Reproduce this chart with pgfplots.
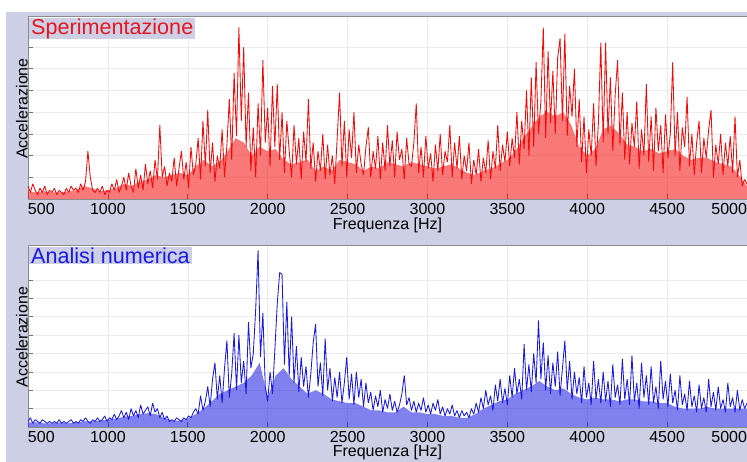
\documentclass[border=0pt]{standalone}
\usepackage{fontspec}
\setmainfont{Liberation Sans}
\usepackage{pgfplots}
\pgfplotsset{compat=1.18}

\definecolor{lav}{RGB}{205,207,228}
\definecolor{sigred}{RGB}{245,10,10}
\definecolor{sigblue}{RGB}{25,25,225}
\definecolor{ttlred}{RGB}{228,22,32}
\definecolor{ttlblue}{RGB}{25,25,230}

\pgfplotsset{
  panel/.style={
    scale only axis, width=719pt,
    xmin=500, xmax=5000, ymin=0,
    anchor=south west,
    axis background/.style={fill=white},
    axis line style={black!45, line width=0.6pt},
    xtick={500,1000,...,5000},
    xticklabels={\rlap{500},1000,1500,2000,2500,3000,3500,4000,4500,\llap{5000}},
    xtick pos=bottom, ytick pos=left, tick align=inside,
    major tick length=5pt, tick style={black!55, line width=0.6pt},
    yticklabels={},
    grid=major, grid style={black!8, line width=0.5pt},
    tick label style={font=\fontsize{16}{17}\selectfont, inner sep=1pt},
    xticklabel style={yshift=-3pt},
    label style={font=\fontsize{16}{17}\selectfont},
    xlabel={Frequenza [Hz]},
    ylabel={Accelerazione},
    xlabel style={at={(axis description cs:0.5,0)}, anchor=north, inner sep=0pt},
    ylabel style={at={(axis description cs:0,0.5)}, anchor=south, inner sep=0pt, xshift=-1pt},
  },
  core/.style={draw=none, fill opacity=0.55},
  spikes/.style={line width=0.85pt, line join=bevel},
}
\tikzset{
  ttl/.style={anchor=north west, fill=lav, inner xsep=2pt, inner ysep=0.5pt,
    font=\fontsize{21.6}{22}\selectfont, shift={(1pt,-2pt)}},
}

\begin{document}
\begin{tikzpicture}
\useasboundingbox (0pt,0pt) rectangle (747pt,462pt);
\fill[white] (0pt,0pt) rectangle (747pt,462pt);
\fill[lav] (6pt,0pt) rectangle (747pt,450pt);

% Sperimentazione
\begin{axis}[panel, at={(28pt,263pt)}, height=183pt, ymax=8.43,
    ytick={1,...,7}, xlabel style={yshift=-19pt}]
% dense core of the spectrum
\addplot[core, fill=sigred] coordinates {
(500,0)(500,0.35)(550,0.3)(600,0.35)(650,0.3)(700,0.3)(750,0.35)(800,0.4)(850,0.6)(900,0.5)(950,0.35)
(1000,0.4)(1050,0.5)(1100,0.7)(1150,0.6)(1200,0.8)(1250,0.9)(1300,1.1)(1350,1.0)(1400,1.1)(1450,1.2)
(1500,1.1)(1550,1.5)(1600,1.8)(1650,1.5)(1700,1.7)(1750,2.2)(1800,2.8)(1850,2.6)(1900,2.0)(1950,2.4)
(2000,2.2)(2050,2.3)(2100,1.8)(2150,1.6)(2200,1.7)(2250,1.8)(2300,1.3)(2350,1.5)(2400,1.3)(2450,1.8)
(2500,1.7)(2550,1.6)(2600,1.3)(2650,1.5)(2700,1.4)(2750,1.7)(2800,1.6)(2850,1.5)(2900,1.7)(2950,1.6)
(3000,1.5)(3050,1.4)(3100,1.5)(3150,1.6)(3200,1.4)(3250,1.2)(3300,1.1)(3350,1.3)(3400,1.4)(3450,1.6)
(3500,1.8)(3550,2.2)(3600,2.8)(3650,3.3)(3700,3.8)(3750,4.0)(3800,3.8)(3850,4.0)(3900,3.4)(3950,2.4)
(4000,2.0)(4050,2.3)(4100,3.2)(4150,3.4)(4200,3.0)(4250,2.5)(4300,2.4)(4350,2.2)(4400,2.3)(4450,2.1)
(4500,2.2)(4550,2.3)(4600,2.0)(4650,1.8)(4700,1.9)(4750,1.9)(4800,1.7)(4850,1.6)(4900,1.5)(4950,1.1)
(5000,0.6)(5000,0)
} \closedcycle;
\addplot[spikes, sigred] coordinates {
(500,0.6)(515,0.3)(530,0.7)(545,0.4)(560,0.2)(575,0.5)(590,0.3)(605,0.6)(620,0.2)(635,0.4)
(650,0.3)(665,0.5)(680,0.2)(695,0.4)(710,0.3)(725,0.2)(740,0.5)(755,0.3)(770,0.6)(785,0.4)
(800,0.5)(815,0.3)(830,0.7)(845,0.4)(860,0.8)(875,2.2)(890,1.0)(905,0.4)(920,0.3)(935,0.5)
(950,0.3)(965,0.6)(980,0.2)(995,0.4)(1010,0.3)(1025,0.7)(1040,0.4)(1055,0.9)(1070,0.3)(1085,0.6)
(1100,1.0)(1115,0.4)(1130,1.2)(1145,0.6)(1160,0.3)(1175,1.4)(1190,0.5)(1205,1.1)(1220,0.4)(1235,1.6)
(1250,0.7)(1265,1.3)(1280,0.5)(1295,1.8)(1310,0.9)(1325,3.4)(1340,1.0)(1355,1.5)(1370,0.6)(1385,1.2)
(1400,0.8)(1415,1.9)(1430,0.6)(1445,1.4)(1460,2.2)(1475,0.9)(1490,1.7)(1505,0.5)(1520,2.4)(1535,1.1)
(1550,1.6)(1565,2.8)(1580,0.9)(1595,3.6)(1610,1.5)(1625,4.1)(1640,1.2)(1655,2.6)(1670,0.8)(1685,2.0)
(1700,1.4)(1715,3.2)(1730,1.0)(1745,2.5)(1760,4.6)(1775,1.8)(1790,5.8)(1805,2.9)(1820,7.9)(1835,3.6)
(1850,7.0)(1865,2.4)(1880,4.9)(1895,1.3)(1910,3.3)(1925,1.0)(1940,4.4)(1955,2.0)(1970,6.4)(1985,2.6)
(2000,4.2)(2015,1.5)(2030,5.2)(2045,2.4)(2060,5.3)(2075,1.8)(2090,4.0)(2105,1.2)(2120,3.6)(2135,2.2)
(2150,1.0)(2165,3.4)(2180,1.6)(2195,2.8)(2210,0.9)(2225,3.1)(2240,1.7)(2255,4.6)(2270,1.4)(2285,2.6)
(2300,0.8)(2315,2.2)(2330,1.3)(2345,3.0)(2360,0.9)(2375,2.5)(2390,1.1)(2405,2.0)(2420,0.7)(2435,2.8)
(2450,4.9)(2465,1.5)(2480,3.6)(2495,1.0)(2510,3.2)(2525,1.9)(2540,4.0)(2555,1.2)(2570,2.5)(2585,1.6)
(2600,1.1)(2615,2.4)(2630,3.3)(2645,1.0)(2660,2.2)(2675,1.4)(2690,2.9)(2705,0.9)(2720,2.6)(2735,1.3)
(2750,3.4)(2765,1.5)(2780,2.7)(2795,1.0)(2810,3.1)(2825,1.8)(2840,2.3)(2855,0.9)(2870,2.8)(2885,1.6)
(2900,1.5)(2915,2.6)(2930,4.4)(2945,1.2)(2960,2.4)(2975,1.0)(2990,2.9)(3005,1.4)(3020,2.1)(3035,0.8)
(3050,2.5)(3065,1.3)(3080,3.0)(3095,1.1)(3110,2.2)(3125,1.7)(3140,3.4)(3155,1.0)(3170,2.6)(3185,1.4)
(3200,2.9)(3215,0.9)(3230,2.0)(3245,1.3)(3260,2.6)(3275,0.7)(3290,1.8)(3305,1.1)(3320,2.3)(3335,0.8)
(3350,1.9)(3365,1.2)(3380,2.7)(3395,0.9)(3410,2.2)(3425,1.4)(3440,3.4)(3455,1.3)(3470,2.5)(3485,1.7)
(3500,3.1)(3515,1.5)(3530,2.8)(3545,1.9)(3560,4.0)(3575,1.6)(3590,3.6)(3605,2.3)(3620,5.0)(3635,2.0)
(3650,5.6)(3665,2.4)(3680,6.3)(3695,3.0)(3710,4.5)(3725,7.9)(3740,2.8)(3755,6.8)(3770,3.5)(3785,5.9)
(3800,3.0)(3815,6.5)(3830,7.4)(3845,3.6)(3860,7.6)(3875,2.9)(3890,5.2)(3905,3.8)(3920,6.0)(3935,2.4)
(3950,4.6)(3965,1.7)(3980,3.8)(3995,1.2)(4010,3.2)(4025,2.0)(4040,4.4)(4055,1.5)(4070,3.5)(4085,7.2)
(4100,2.6)(4115,7.2)(4130,3.0)(4145,5.6)(4160,2.2)(4175,4.8)(4190,6.4)(4205,2.5)(4220,4.9)(4235,1.8)
(4250,4.0)(4265,1.6)(4280,3.5)(4295,2.4)(4310,4.5)(4325,1.4)(4340,3.2)(4355,2.0)(4370,5.3)(4385,1.7)
(4400,3.8)(4415,1.3)(4430,4.2)(4445,2.2)(4460,3.4)(4475,1.2)(4490,3.9)(4505,1.9)(4520,3.0)(4535,6.3)
(4550,2.0)(4565,4.0)(4580,1.3)(4595,3.3)(4610,2.4)(4625,4.7)(4640,1.5)(4655,3.0)(4670,1.1)(4685,2.6)
(4700,3.6)(4715,1.2)(4730,2.8)(4745,1.9)(4760,3.2)(4775,4.1)(4790,1.0)(4805,2.5)(4820,1.6)(4835,3.0)
(4850,1.1)(4865,2.6)(4880,1.5)(4895,2.9)(4910,1.2)(4925,3.8)(4940,1.0)(4955,1.8)(4970,0.6)(4985,0.9)(5000,0.7)
};
\node[ttl, text=ttlred] at (rel axis cs:0,1) {Sperimentazione};
\end{axis}

% Analisi numerica
\begin{axis}[panel, at={(28pt,35pt)}, height=182pt, ymax=9.9,
    ytick={1,...,8}, xlabel style={yshift=-18pt}]
% dense core of the spectrum
\addplot[core, fill=sigblue] coordinates {
(500,0)(500,0.25)(550,0.25)(600,0.2)(650,0.2)(700,0.25)(750,0.2)(800,0.25)(850,0.3)(900,0.3)(950,0.35)
(1000,0.4)(1050,0.45)(1100,0.55)(1150,0.6)(1200,0.7)(1250,0.75)(1300,0.7)(1350,0.5)(1400,0.35)(1450,0.35)
(1500,0.45)(1550,0.7)(1600,1.0)(1650,1.4)(1700,1.8)(1750,2.0)(1800,2.2)(1850,2.4)(1900,2.8)(1950,3.5)
(2000,1.6)(2050,2.8)(2100,3.2)(2150,2.6)(2200,2.2)(2250,1.8)(2300,2.0)(2350,1.8)(2400,1.5)(2450,1.4)
(2500,1.3)(2550,1.3)(2600,1.1)(2650,0.9)(2700,0.9)(2750,0.8)(2800,0.8)(2850,1.1)(2900,0.8)(2950,0.8)
(3000,0.7)(3050,0.7)(3100,0.6)(3150,0.6)(3200,0.5)(3250,0.5)(3300,0.7)(3350,1.0)(3400,1.2)(3450,1.4)
(3500,1.5)(3550,1.8)(3600,2.0)(3650,2.2)(3700,2.5)(3750,2.2)(3800,2.0)(3850,2.1)(3900,1.8)(3950,1.6)
(4000,1.5)(4050,1.6)(4100,1.5)(4150,1.5)(4200,1.4)(4250,1.5)(4300,1.5)(4350,1.4)(4400,1.4)(4450,1.3)
(4500,1.3)(4550,1.1)(4600,1.0)(4650,1.0)(4700,1.0)(4750,1.1)(4800,1.0)(4850,1.0)(4900,1.0)(4950,1.0)
(5000,1.0)(5000,0)
} \closedcycle;
\addplot[spikes, sigblue] coordinates {
(500,0.3)(515,0.5)(530,0.2)(545,0.4)(560,0.3)(575,0.2)(590,0.4)(605,0.3)(620,0.2)(635,0.3)
(650,0.2)(665,0.3)(680,0.2)(695,0.4)(710,0.2)(725,0.3)(740,0.2)(755,0.3)(770,0.4)(785,0.2)
(800,0.3)(815,0.2)(830,0.4)(845,0.3)(860,0.5)(875,0.3)(890,0.2)(905,0.4)(920,0.3)(935,0.5)
(950,0.3)(965,0.4)(980,0.6)(995,0.3)(1010,0.5)(1025,0.4)(1040,0.7)(1055,0.4)(1070,0.6)(1085,0.9)
(1100,0.5)(1115,0.8)(1130,0.4)(1145,1.0)(1160,0.6)(1175,0.9)(1190,0.5)(1205,1.2)(1220,0.7)(1235,0.9)
(1250,1.1)(1265,0.6)(1280,1.3)(1295,0.8)(1310,1.0)(1325,0.5)(1340,0.8)(1355,0.4)(1370,0.6)(1385,0.3)
(1400,0.4)(1415,0.3)(1430,0.5)(1445,0.4)(1460,0.3)(1475,0.5)(1490,0.4)(1505,0.6)(1520,0.5)(1535,0.8)
(1550,1.0)(1565,0.7)(1580,1.7)(1595,0.9)(1610,1.4)(1625,2.2)(1640,1.1)(1655,2.6)(1670,3.5)(1685,1.5)
(1700,2.8)(1715,1.3)(1730,3.2)(1745,4.7)(1760,1.6)(1775,2.9)(1790,5.1)(1805,2.0)(1820,5.0)(1835,2.4)
(1850,3.6)(1865,1.8)(1880,5.7)(1895,3.2)(1910,4.0)(1925,6.4)(1940,9.6)(1955,3.8)(1970,6.2)(1985,2.2)
(2000,1.4)(2015,3.0)(2030,1.8)(2045,4.2)(2060,6.7)(2075,8.4)(2090,8.3)(2105,3.4)(2120,6.8)(2135,2.8)
(2150,6.0)(2165,2.4)(2180,4.4)(2195,1.9)(2210,3.8)(2225,2.2)(2240,3.3)(2255,1.6)(2270,2.9)(2285,4.6)
(2300,5.6)(2315,2.2)(2330,3.5)(2345,1.7)(2360,4.8)(2375,2.0)(2390,3.2)(2405,1.4)(2420,2.7)(2435,1.6)
(2450,3.0)(2465,1.3)(2480,2.4)(2495,3.8)(2510,1.5)(2525,2.9)(2540,1.2)(2555,3.0)(2570,1.6)(2585,2.6)
(2600,1.1)(2615,2.4)(2630,1.3)(2645,1.9)(2660,0.9)(2675,1.7)(2690,1.1)(2705,2.0)(2720,0.8)(2735,1.5)
(2750,1.0)(2765,1.8)(2780,0.9)(2795,1.4)(2810,0.8)(2825,1.2)(2840,1.8)(2855,2.8)(2870,1.2)(2885,1.6)
(2900,0.9)(2915,1.4)(2930,0.8)(2945,1.3)(2960,0.9)(2975,1.6)(2990,0.8)(3005,1.2)(3020,0.7)(3035,1.3)
(3050,0.9)(3065,1.5)(3080,0.7)(3095,1.1)(3110,0.6)(3125,1.0)(3140,0.7)(3155,1.2)(3170,0.6)(3185,0.9)
(3200,0.5)(3215,0.9)(3230,0.6)(3245,0.8)(3260,0.5)(3275,1.0)(3290,0.7)(3305,1.3)(3320,0.8)(3335,1.6)
(3350,1.0)(3365,2.0)(3380,1.2)(3395,1.7)(3410,0.9)(3425,2.3)(3440,1.4)(3455,2.6)(3470,1.3)(3485,2.1)
(3500,1.2)(3515,2.8)(3530,1.6)(3545,3.2)(3560,1.8)(3575,2.6)(3590,1.5)(3605,4.5)(3620,2.0)(3635,3.4)
(3650,1.9)(3665,4.0)(3680,2.4)(3695,5.8)(3710,2.6)(3725,4.6)(3740,2.0)(3755,3.9)(3770,1.8)(3785,3.5)
(3800,2.2)(3815,4.1)(3830,1.7)(3845,3.2)(3860,4.7)(3875,2.0)(3890,3.6)(3905,1.5)(3920,3.0)(3935,1.8)
(3950,2.7)(3965,1.3)(3980,3.3)(3995,1.6)(4010,2.4)(4025,1.2)(4040,3.6)(4055,1.5)(4070,2.6)(4085,1.3)
(4100,3.0)(4115,1.4)(4130,2.5)(4145,1.1)(4160,3.4)(4175,1.6)(4190,2.3)(4205,1.2)(4220,3.7)(4235,1.5)
(4250,2.6)(4265,1.2)(4280,3.9)(4295,1.4)(4310,2.4)(4325,1.0)(4340,3.5)(4355,1.6)(4370,2.8)(4385,1.2)
(4400,3.3)(4415,1.3)(4430,2.2)(4445,1.0)(4460,3.6)(4475,1.5)(4490,2.5)(4505,1.1)(4520,2.9)(4535,1.3)
(4550,2.0)(4565,0.9)(4580,2.8)(4595,1.2)(4610,1.8)(4625,0.9)(4640,2.5)(4655,1.1)(4670,1.7)(4685,0.8)
(4700,2.3)(4715,1.0)(4730,1.6)(4745,0.8)(4760,2.6)(4775,1.1)(4790,1.9)(4805,0.9)(4820,2.2)(4835,1.0)
(4850,1.5)(4865,0.8)(4880,2.4)(4895,1.1)(4910,1.6)(4925,0.8)(4940,2.0)(4955,0.9)(4970,1.5)(4985,1.0)(5000,1.3)
};
\node[ttl, text=ttlblue] at (rel axis cs:0,1) {Analisi numerica};
\end{axis}
\end{tikzpicture}
\end{document}
